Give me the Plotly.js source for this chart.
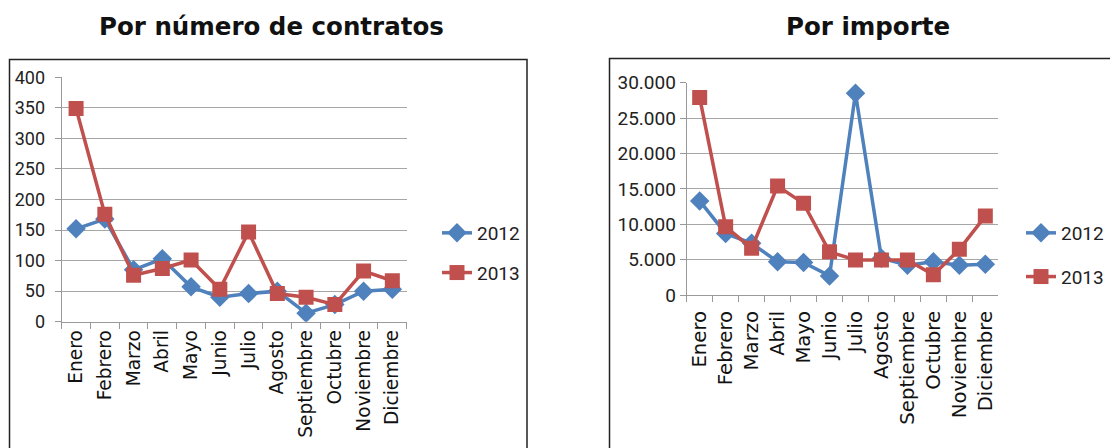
<!DOCTYPE html>
<html>
<head>
<meta charset="utf-8">
<script src="https://cdn.plot.ly/plotly-3.0.1.min.js"></script>
<style>html,body{margin:0;padding:0;background:#fff;overflow:hidden;width:1110px;height:448px;}#chart{width:1110px;height:448px;overflow:hidden;}</style>
</head>
<body>
<div id="chart"></div>
<script>
const meses = ['Enero','Febrero','Marzo','Abril','Mayo','Junio','Julio','Agosto','Septiembre','Octubre','Noviembre','Diciembre'];
const contratos2012 = [152, 168, 85, 103, 57, 40, 46, 50, 14, 28, 50, 53];
const contratos2013 = [349, 176, 76, 87, 101, 53, 147, 46, 40, 28, 83, 67];
const importe2012 = [13300, 8700, 7300, 4700, 4600, 2700, 28500, 5200, 4200, 4700, 4200, 4350];
const importe2013 = [27900, 9650, 6600, 15400, 12950, 6100, 4950, 4950, 4950, 2850, 6450, 11150];
const series = ['2012', '2013'];
const titulos = ['Por número de contratos', 'Por importe'];

const BLUE = '#4F81BD', RED = '#C0504D';
const W = 1110, H = 448;
const px = v => v / W, py = v => 1 - v / H;

function tr(x, y, name, color, sym, xa, ya, leg) {
  return {
    x: x, y: y, name: name, type: 'scatter', mode: 'lines+markers',
    xaxis: xa, yaxis: ya, legend: leg, legendgroup: leg + name,
    line: {color: color, width: 3.5},
    marker: {color: color, symbol: sym, size: 15, line: {width: 0}},
    hoverinfo: 'x+y+name'
  };
}

const data = [
  tr(meses, contratos2012, series[0], BLUE, 'diamond', 'x', 'y', 'legend'),
  tr(meses, contratos2013, series[1], RED, 'square', 'x', 'y', 'legend'),
  tr(meses, importe2012, series[0], BLUE, 'diamond', 'x2', 'y2', 'legend2'),
  tr(meses, importe2013, series[1], RED, 'square', 'x2', 'y2', 'legend2')
];

const NARROW = 'Roboto, Liberation Sans Narrow, sans-serif';
const tickFontL = {family: NARROW, size: 18, color: '#222'};
const tickFontR = {family: NARROW, size: 19, color: '#222'};
const catFontL = {family: 'DejaVu Sans, sans-serif', size: 18.6, color: '#111'};
const catFontR = {family: 'DejaVu Sans, sans-serif', size: 19.7, color: '#111'};

function xax(domain, anchor, font, standoff) {
  return {
    domain: domain, anchor: anchor, type: 'category', automargin: false,
    tickangle: -90, tickfont: font, tickson: 'boundaries',
    ticks: 'outside', ticklen: 6, tickcolor: '#999', tickwidth: 1,
    ticklabelstandoff: standoff,
    showline: true, linecolor: '#999', linewidth: 1,
    showgrid: false, zeroline: false, fixedrange: true,
    range: [-0.5, 11.5]
  };
}
function yax(domain, anchor, range, dtick, font, fmt, standoff) {
  return {
    domain: domain, anchor: anchor, range: range, dtick: dtick, automargin: false,
    tickfont: font, tickformat: fmt, ticklabelstandoff: standoff,
    ticks: 'outside', ticklen: 6, tickcolor: '#999', tickwidth: 1,
    showline: true, linecolor: '#999', linewidth: 1,
    showgrid: true, gridcolor: '#a6a6a6', gridwidth: 1,
    zeroline: false, fixedrange: true
  };
}

const legFont = {family: NARROW, size: 19, color: '#222'};

const layout = {
  width: W, height: H,
  margin: {l: 0, r: 0, t: 0, b: 0},
  paper_bgcolor: '#fff', plot_bgcolor: '#fff',
  separators: ',.',
  showlegend: true,
  xaxis: xax([px(61.7), px(406.7)], 'y', catFontL, 0),
  yaxis: yax([py(321.7), py(77.3)], 'x', [0, 400], 50, tickFontL, 'd', 6),
  xaxis2: xax([px(686.7), px(998.3)], 'y2', catFontR, 7),
  yaxis2: yax([py(295), py(82.7)], 'x2', [0, 30000], 5000, tickFontR, ',.0f', 0),
  legend: {x: px(437), y: py(214), xanchor: 'left', yanchor: 'top', font: legFont,
           tracegroupgap: 12, bgcolor: 'rgba(0,0,0,0)', itemclick: false, itemdoubleclick: false},
  legend2: {x: px(1021), y: py(214), xanchor: 'left', yanchor: 'top', font: legFont,
            tracegroupgap: 16, bgcolor: 'rgba(0,0,0,0)', itemclick: false, itemdoubleclick: false},
  shapes: [
    {type: 'rect', xref: 'paper', yref: 'paper', x0: px(9.5), x1: px(527), y0: py(460), y1: py(59.5),
     line: {color: '#222', width: 1.5}, fillcolor: 'rgba(0,0,0,0)'},
    {type: 'rect', xref: 'paper', yref: 'paper', x0: px(609.5), x1: px(1130), y0: py(460), y1: py(58.5),
     line: {color: '#222', width: 1.5}, fillcolor: 'rgba(0,0,0,0)'}
  ],
  annotations: [
    {text: titulos[0], xref: 'paper', yref: 'paper', x: px(271), y: py(27), xanchor: 'center', yanchor: 'middle',
     showarrow: false, font: {family: 'DejaVu Sans, sans-serif', size: 24.5, color: '#111', weight: 'bold'}},
    {text: titulos[1], xref: 'paper', yref: 'paper', x: px(868), y: py(27), xanchor: 'center', yanchor: 'middle',
     showarrow: false, font: {family: 'DejaVu Sans, sans-serif', size: 24.5, color: '#111', weight: 'bold'}}
  ]
};

Plotly.newPlot('chart', data, layout, {displayModeBar: false, responsive: false});
</script>
</body>
</html>
